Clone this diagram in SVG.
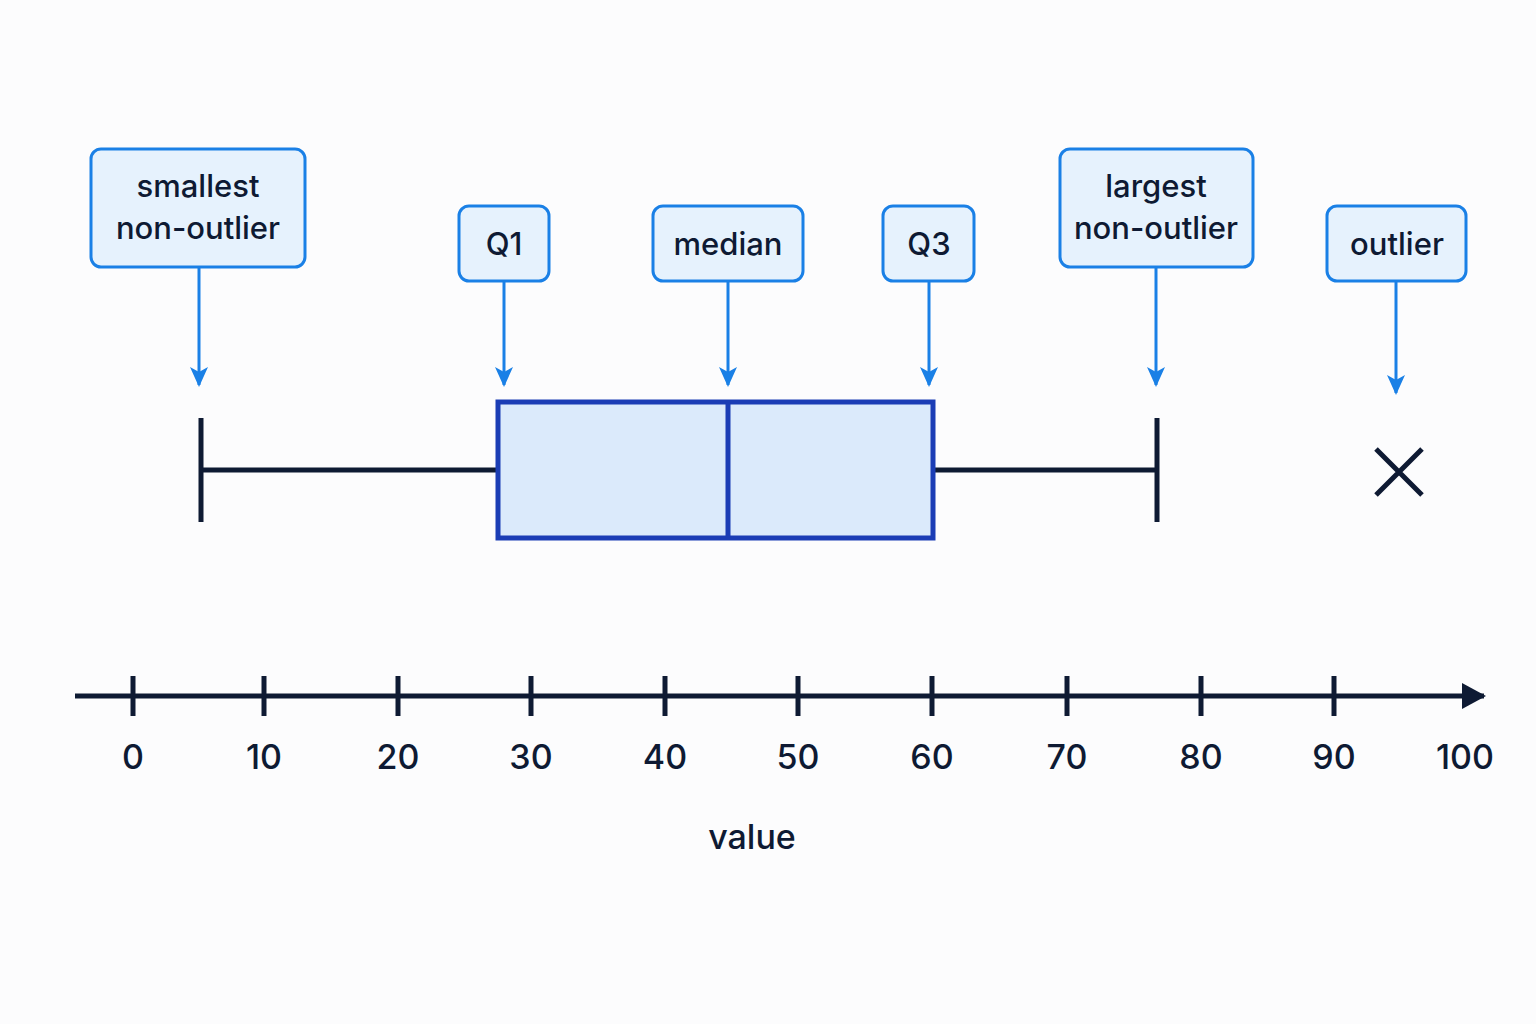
<svg xmlns="http://www.w3.org/2000/svg" width="1536" height="1024" viewBox="0 0 1536 1024">
<defs>
<style>
.lbl{fill:#e6f2fd;stroke:#1a80e6;stroke-width:3}
.t{font-family:Inter,"Liberation Sans",sans-serif;font-size:31px;font-weight:500;fill:#0e1a33;text-anchor:middle}
.ax{font-family:Inter,"Liberation Sans",sans-serif;font-size:34px;font-weight:500;fill:#0e1a33;text-anchor:middle}
.arr{stroke:#1a80e6;stroke-width:3;fill:none;marker-end:url(#ba)}
.dk{stroke:#0e1a33;stroke-width:5;fill:none}
</style>
<marker id="ba" markerWidth="20" markerHeight="20" refX="18" refY="10" orient="auto" markerUnits="userSpaceOnUse" viewBox="0 0 20 20"><path d="M0,1 L20,10 L0,19 L5,10 Z" fill="#1a80e6"/></marker>
<marker id="ka" markerWidth="24" markerHeight="26" refX="22" refY="13" orient="auto" markerUnits="userSpaceOnUse"><path d="M0,0 L24,13 L0,26 Z" fill="#0e1a33"/></marker>
</defs>
<rect width="1536" height="1024" fill="#fcfcfd"/>
<g id="n-smallest"><rect class="lbl" x="91" y="149" width="214" height="118" rx="10"/><text class="t" x="198" y="197">smallest</text><text class="t" x="198" y="239">non-outlier</text></g>
<g id="n-q1"><rect class="lbl" x="459" y="206" width="90" height="75" rx="10"/><text class="t" x="504" y="255">Q1</text></g>
<g id="n-median"><rect class="lbl" x="653" y="206" width="150" height="75" rx="10"/><text class="t" x="728" y="255">median</text></g>
<g id="n-q3"><rect class="lbl" x="883" y="206" width="91" height="75" rx="10"/><text class="t" x="929" y="255">Q3</text></g>
<g id="n-largest"><rect class="lbl" x="1060" y="149" width="193" height="118" rx="10"/><text class="t" x="1156" y="197">largest</text><text class="t" x="1156" y="239">non-outlier</text></g>
<g id="n-outlier"><rect class="lbl" x="1327" y="206" width="139" height="75" rx="10"/><text class="t" x="1397" y="255">outlier</text></g>
<g id="connectors">
<line class="arr" x1="199" y1="267" x2="199" y2="385"/>
<line class="arr" x1="504" y1="281" x2="504" y2="385"/>
<line class="arr" x1="728" y1="281" x2="728" y2="385"/>
<line class="arr" x1="929" y1="281" x2="929" y2="385"/>
<line class="arr" x1="1156" y1="267" x2="1156" y2="385"/>
<line class="arr" x1="1396" y1="281" x2="1396" y2="393"/>
</g>
<g id="boxplot">
<line class="dk" x1="201" y1="418" x2="201" y2="522"/>
<line class="dk" x1="201" y1="470" x2="498" y2="470"/>
<line class="dk" x1="933" y1="470" x2="1157" y2="470"/>
<line class="dk" x1="1157" y1="418" x2="1157" y2="522"/>
<rect x="498" y="402" width="435" height="136" fill="#dbeafb" stroke="#1b3db5" stroke-width="5"/>
<line x1="728" y1="402" x2="728" y2="538" stroke="#1b3db5" stroke-width="5"/>
<path class="dk" d="M1376,449 L1422,495 M1422,449 L1376,495"/>
</g>
<g id="axis">
<line class="dk" x1="75" y1="696" x2="1484" y2="696" stroke-width="4" marker-end="url(#ka)"/>
<g class="dk" stroke-width="4">
<line x1="133" y1="676" x2="133" y2="716"/><line x1="264" y1="676" x2="264" y2="716"/><line x1="398" y1="676" x2="398" y2="716"/><line x1="531" y1="676" x2="531" y2="716"/><line x1="665" y1="676" x2="665" y2="716"/><line x1="798" y1="676" x2="798" y2="716"/><line x1="932" y1="676" x2="932" y2="716"/><line x1="1067" y1="676" x2="1067" y2="716"/><line x1="1201" y1="676" x2="1201" y2="716"/><line x1="1334" y1="676" x2="1334" y2="716"/>
</g>
<text class="ax" x="133" y="769">0</text><text class="ax" x="264" y="769">10</text><text class="ax" x="398" y="769">20</text><text class="ax" x="531" y="769">30</text><text class="ax" x="665" y="769">40</text><text class="ax" x="798" y="769">50</text><text class="ax" x="932" y="769">60</text><text class="ax" x="1067" y="769">70</text><text class="ax" x="1201" y="769">80</text><text class="ax" x="1334" y="769">90</text><text class="ax" x="1465" y="769">100</text>
<text class="ax" x="752" y="849">value</text>
</g>
</svg>
